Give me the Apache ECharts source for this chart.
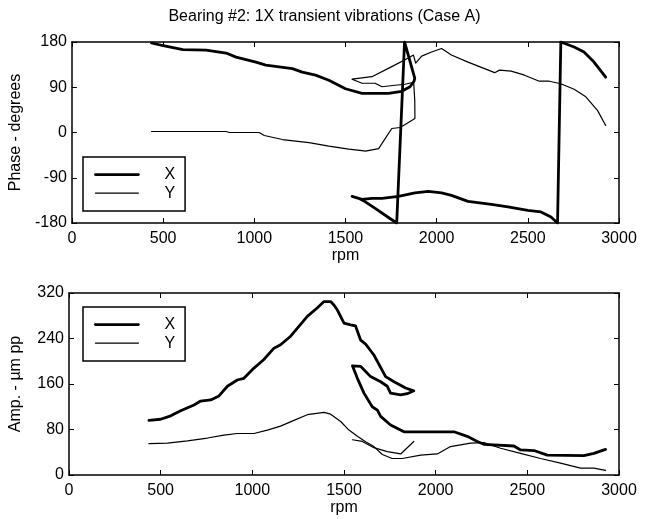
<!DOCTYPE html>
<html>
<head>
<meta charset="utf-8">
<script src="https://cdn.jsdelivr.net/npm/echarts@6/dist/echarts.min.js"></script>
<style>
html,body{margin:0;padding:0;background:#fff;}
#chart{width:649px;height:519px;}
</style>
</head>
<body>
<div id="chart"></div>
<script>
// ---- data (rpm, value) ----
const titleText = 'Bearing #2: 1X transient vibrations (Case A)';
const rpmTicks = [0, 500, 1000, 1500, 2000, 2500, 3000];
const phaseTicks = [-180, -90, 0, 90, 180];
const ampTicks = [0, 80, 160, 240, 320];

const phaseX = [[436,178],[500,173],[609,165],[736,164],[845,158],[900,150],[1009,140],[1063,134],[1209,127],[1263,120],[1336,114],[1409,104],[1500,87],[1591,78],[1736,78],[1809,82],[1854,91],[1876,102],[1880,108],[1824,180],[1781,-180],[1736,-169],[1663,-151],[1609,-138],[1573,-131],[1536,-127],[1591,-133],[1645,-131],[1700,-131],[1791,-127],[1881,-120],[1954,-117],[2027,-120],[2081,-125],[2172,-137],[2300,-143],[2391,-148],[2500,-155],[2572,-158],[2627,-168],[2663,-180],[2681,180],[2754,170],[2808,160],[2863,140],[2927,110]];

const phaseY = [[436,2],[845,2],[864,0],[1027,0],[1055,-6],[1154,-14],[1300,-20],[1409,-27],[1518,-33],[1591,-36],[1609,-37],[1682,-32],[1754,8],[1800,10],[1881,28],[1880,64],[1874,100],[1827,96],[1772,94],[1700,91],[1663,98],[1591,98],[1536,106],[1645,111],[1754,131],[1845,148],[1873,154],[1885,138],[1918,152],[1972,160],[2027,167],[2081,154],[2172,140],[2263,127],[2318,119],[2345,124],[2409,122],[2482,114],[2563,102],[2618,102],[2681,97],[2754,86],[2818,71],[2882,44],[2927,14]];

const ampX = [[436,96],[500,98],[555,104],[609,113],[682,123],[718,130],[773,132],[818,139],[864,156],[918,167],[954,170],[1009,188],[1063,203],[1118,223],[1154,229],[1209,244],[1300,279],[1355,294],[1391,305],[1427,305],[1445,299],[1464,290],[1500,267],[1536,264],[1563,262],[1591,237],[1618,230],[1663,211],[1727,173],[1773,164],[1836,153],[1881,148],[1845,143],[1809,141],[1754,144],[1736,156],[1700,164],[1645,173],[1609,185],[1591,191],[1546,192],[1573,170],[1609,144],[1654,120],[1682,114],[1700,103],[1754,88],[1827,76],[2100,76],[2172,68],[2227,59],[2263,54],[2427,51],[2463,44],[2536,43],[2609,35],[2808,34],[2863,38],[2927,45]];

const ampYmain = [[436,55],[537,56],[646,60],[755,65],[845,70],[918,73],[1009,73],[1082,79],[1154,86],[1227,96],[1300,106],[1391,110],[1427,107],[1482,94],[1527,79],[1573,68],[1620,58],[1663,50],[1709,36],[1763,29],[1818,29],[1918,35],[2009,37],[2081,50],[2190,56],[2263,57],[2354,47],[2463,38],[2572,29],[2681,21],[2790,12],[2863,12],[2927,8]];
const ampYhook = [[1546,62],[1600,59],[1663,48],[1736,41],[1809,37],[1881,59]];

// ---- chart ----
const FONT = "'Liberation Sans', Arial, Helvetica, sans-serif";
const FS = 16;
const black = '#000';
const wX = 2.8, wY = 1.2;
const plain = v => String(v);

function xAxes(gridIndex) {
  const base = {
    type: 'value', gridIndex: gridIndex, min: rpmTicks[0], max: rpmTicks[rpmTicks.length-1],
    interval: rpmTicks[1] - rpmTicks[0],
    axisLine: {show: true, onZero: false, lineStyle: {color: black, width: 1.5}},
    axisTick: {show: true, inside: true, length: 5, lineStyle: {color: black, width: 1}},
    splitLine: {show: false}
  };
  return [
    Object.assign({}, base, {
      position: 'bottom', name: 'rpm', nameLocation: 'middle', nameGap: 25,
      nameTextStyle: {color: black, fontSize: FS, fontFamily: FONT},
      axisLabel: {show: true, color: black, fontSize: FS, fontFamily: FONT, margin: 8, formatter: plain}
    }),
    Object.assign({}, base, {position: 'top', axisLabel: {show: false}})
  ];
}
function yAxes(gridIndex, ticks, name) {
  const base = {
    type: 'value', gridIndex: gridIndex, min: ticks[0], max: ticks[ticks.length-1],
    interval: ticks[1] - ticks[0],
    axisLine: {show: true, onZero: false, lineStyle: {color: black, width: 1.5}},
    axisTick: {show: true, inside: true, length: 5, lineStyle: {color: black, width: 1}},
    splitLine: {show: false}
  };
  return [
    Object.assign({}, base, {
      position: 'left', name: name, nameLocation: 'middle', nameGap: 45, nameRotate: 90,
      nameTextStyle: {color: black, fontSize: FS, fontFamily: FONT},
      axisLabel: {show: true, color: black, fontSize: FS, fontFamily: FONT, margin: 5, formatter: plain}
    }),
    Object.assign({}, base, {position: 'right', axisLabel: {show: false}})
  ];
}
function legend(top) {
  const hidden = {color: 'rgba(0,0,0,0)', borderWidth: 0, opacity: 0};
  return {
    orient: 'vertical', left: 83, top: top,
    padding: [9.6, 10, 10, 11],
    itemWidth: 43, itemHeight: 14, itemGap: 2.5,
    borderColor: black, borderWidth: 1.5, backgroundColor: '#fff',
    textStyle: {color: black, fontSize: FS, fontFamily: FONT, padding: [0,0,0,21], lineHeight: 14},
    data: [
      {name: 'X', lineStyle: {width: wX, color: black}, itemStyle: hidden},
      {name: 'Y', lineStyle: {width: wY, color: black}, itemStyle: hidden}
    ],
    selectedMode: false
  };
}
function line(name, data, xi, yi, w) {
  return {
    name: name, type: 'line', xAxisIndex: xi, yAxisIndex: yi, data: data,
    symbol: 'none', animation: false, silent: true,
    lineStyle: {color: black, width: w, join: 'round', cap: 'round'},
    itemStyle: {color: black}
  };
}

const chart = echarts.init(document.getElementById('chart'), null, {renderer: 'canvas'});
chart.setOption({
  backgroundColor: '#fff',
  animation: false,
  title: {
    text: titleText, left: 'center', top: 9, padding: 0,
    textStyle: {color: black, fontSize: FS, fontWeight: 'normal', fontFamily: FONT}
  },
  grid: [
    {left: 68, width: 551, top: 42, height: 181},
    {left: 68, width: 551, top: 293, height: 182}
  ],
  xAxis: xAxes(0).concat(xAxes(1)),
  yAxis: yAxes(0, phaseTicks, 'Phase - degrees').concat(yAxes(1, ampTicks, 'Amp. - \u00b5m pp')),
  legend: [legend(157), legend(307)],
  series: [
    line('X', phaseX, 0, 0, wX),
    line('Y', phaseY, 0, 0, wY),
    line('X', ampX, 2, 2, wX),
    line('Y', ampYmain, 2, 2, wY),
    line('Y', ampYhook, 2, 2, wY)
  ]
});
</script>
</body>
</html>
